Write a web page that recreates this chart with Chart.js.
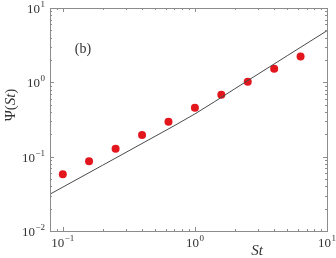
<!DOCTYPE html>
<html>
<head>
<meta charset="utf-8">
<script src="https://cdn.jsdelivr.net/npm/chart.js@4/dist/chart.umd.min.js"></script>
<style>
  html, body { margin: 0; padding: 0; background: #fff; }
  #wrap { width: 336px; height: 258px; }
</style>
</head>
<body>
<div id="wrap"><canvas id="psiChart"></canvas></div>
<script>
// measured points
const stPoints = [0.1, 0.158, 0.251, 0.398, 0.631, 1.0, 1.585, 2.512, 3.981, 6.31];
const psiPoints = [0.058, 0.087, 0.128, 0.196, 0.294, 0.455, 0.68, 1.02, 1.52, 2.22];

// model curve
const stCurve = [0.08, 0.2, 0.5, 1, 2, 5, 10];
const psiCurve = [0.0313, 0.0766, 0.188, 0.376, 0.817, 2.28, 4.95];

// axis ticks
const xMajor = [0.1, 1, 10];
const xExp = ["-1", "0", "1"];
const yMajor = [0.01, 0.1, 1, 10];
const yExp = ["-2", "-1", "0", "1"];

function minorsFor(lo, hi) {
  const out = [];
  for (let d = Math.floor(Math.log10(lo)); d < Math.ceil(Math.log10(hi)); d++) {
    for (let k = 2; k <= 9; k++) {
      const v = k * Math.pow(10, d);
      if (v > lo && v < hi) out.push(v);
    }
  }
  return out;
}

const serif = "'Liberation Serif', 'DejaVu Serif', serif";
const axisGray = "#8c8c8c";

function drawPow(ctx, exp, x, y, align) {
  ctx.font = "13px " + serif;
  const baseW = ctx.measureText("10").width;
  ctx.font = "9px " + serif;
  const expW = ctx.measureText(exp.replace("-", "\u2212")).width;
  const total = baseW + expW + 0.5;
  let x0 = x;
  if (align === "right") x0 = x - total;
  if (align === "center") x0 = x - total / 2;
  ctx.textAlign = "left";
  ctx.textBaseline = "alphabetic";
  ctx.fillStyle = "#333";
  ctx.font = "13px " + serif;
  ctx.fillText("10", x0, y);
  ctx.font = "9px " + serif;
  ctx.fillText(exp.replace("-", "\u2212"), x0 + baseW + 0.5, y - 6);
}

const frame = {
  id: "frame",
  afterDraw(chart) {
    const ctx = chart.ctx;
    const a = chart.chartArea;
    const xs = chart.scales.x, ys = chart.scales.y;
    ctx.save();
    ctx.strokeStyle = axisGray;
    ctx.lineWidth = 1;
    ctx.strokeRect(Math.round(a.left) + 0.5, Math.round(a.top) + 0.5,
      Math.round(a.right - a.left), Math.round(a.bottom - a.top));

    ctx.beginPath();
    xMajor.forEach(v => {
      const px = Math.round(xs.getPixelForValue(v)) + 0.5;
      ctx.moveTo(px, a.bottom); ctx.lineTo(px, a.bottom - 4);
      ctx.moveTo(px, a.top); ctx.lineTo(px, a.top + 4);
    });
    minorsFor(xs.min, xs.max).forEach(v => {
      const px = Math.round(xs.getPixelForValue(v)) + 0.5;
      ctx.moveTo(px, a.bottom); ctx.lineTo(px, a.bottom - 2);
      ctx.moveTo(px, a.top); ctx.lineTo(px, a.top + 2);
    });
    yMajor.forEach(v => {
      const py = Math.round(ys.getPixelForValue(v)) + 0.5;
      ctx.moveTo(a.left, py); ctx.lineTo(a.left + 4, py);
      ctx.moveTo(a.right, py); ctx.lineTo(a.right - 4, py);
    });
    minorsFor(ys.min, ys.max).forEach(v => {
      const py = Math.round(ys.getPixelForValue(v)) + 0.5;
      ctx.moveTo(a.left, py); ctx.lineTo(a.left + 2, py);
      ctx.moveTo(a.right, py); ctx.lineTo(a.right - 2, py);
    });
    ctx.stroke();

    xMajor.forEach((v, i) => drawPow(ctx, xExp[i], xs.getPixelForValue(v), a.bottom + 16, "center"));
    yMajor.forEach((v, i) => drawPow(ctx, yExp[i], a.left - 5, ys.getPixelForValue(v) + 5, "right"));

    ctx.fillStyle = "#333";
    ctx.font = "italic 15px " + serif;
    ctx.textAlign = "center";
    ctx.textBaseline = "middle";
    ctx.fillText("St", 257, 251);

    ctx.save();
    ctx.translate(11, 105);
    ctx.rotate(-Math.PI / 2);
    ctx.font = "15px " + serif;
    const p1 = "\u03A8(", p2 = "St", p3 = ")";
    const w1 = ctx.measureText(p1).width, w3 = ctx.measureText(p3).width;
    ctx.font = "italic 15px " + serif;
    const w2 = ctx.measureText(p2).width;
    let x0 = -(w1 + w2 + w3) / 2;
    ctx.textAlign = "left";
    ctx.font = "15px " + serif;
    ctx.fillText(p1, x0, 0);
    ctx.font = "italic 15px " + serif;
    ctx.fillText(p2, x0 + w1, 0);
    ctx.font = "15px " + serif;
    ctx.fillText(p3, x0 + w1 + w2, 0);
    ctx.restore();

    ctx.font = "14px " + serif;
    ctx.textAlign = "center";
    ctx.fillText("(b)", 83, 49);
    ctx.restore();
  }
};

new Chart(document.getElementById("psiChart"), {
  type: "scatter",
  data: {
    datasets: [
      {
        type: "line",
        data: stCurve.map((x, i) => ({ x: x, y: psiCurve[i] })),
        borderColor: "#4a4a4a",
        borderWidth: 1,
        pointRadius: 0,
        cubicInterpolationMode: "monotone",
        fill: false
      },
      {
        data: stPoints.map((x, i) => ({ x: x, y: psiPoints[i] })),
        backgroundColor: "#e2161c",
        borderColor: "#e2161c",
        pointRadius: 4,
        borderWidth: 0
      }
    ]
  },
  options: {
    responsive: true,
    maintainAspectRatio: false,
    animation: false,
    layout: { padding: { left: 50, right: 9, top: 8, bottom: 27 } },
    plugins: { legend: { display: false }, tooltip: { enabled: false } },
    scales: {
      x: { type: "logarithmic", min: 0.08, max: 10, display: false },
      y: { type: "logarithmic", min: 0.01, max: 10, display: false }
    }
  },
  plugins: [frame]
});
</script>
</body>
</html>
